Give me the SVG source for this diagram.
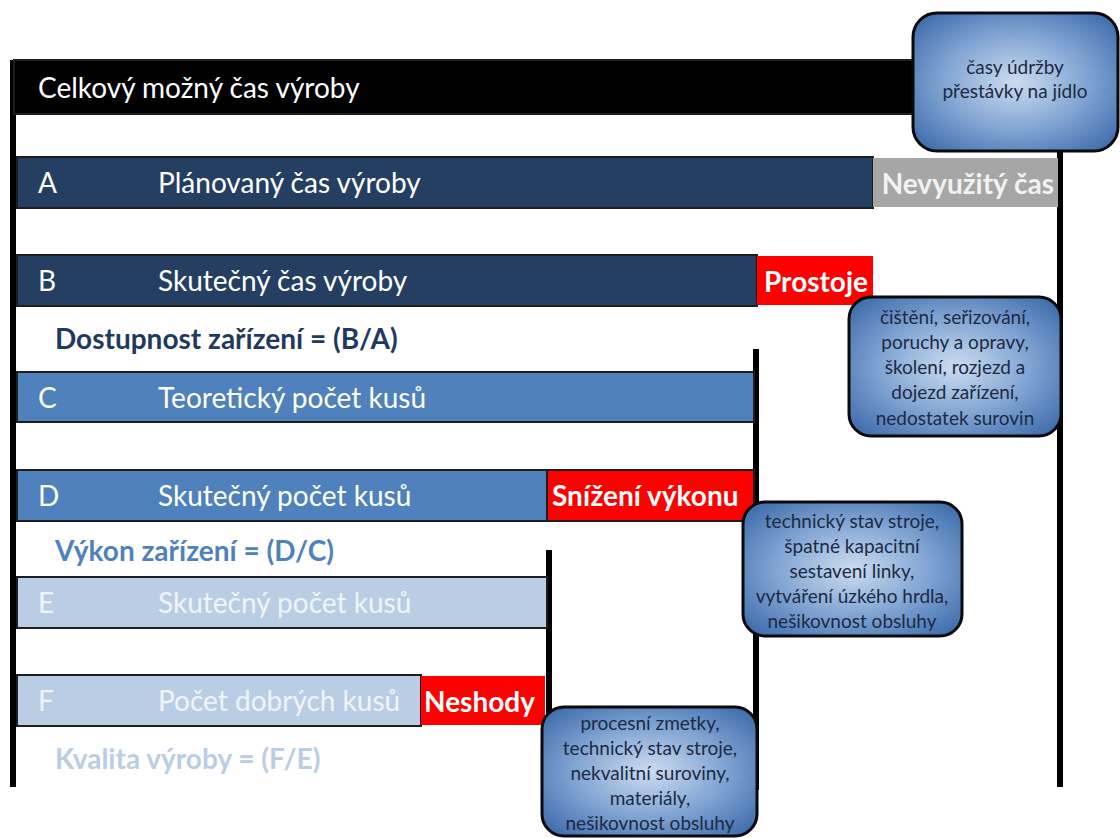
<svg xmlns="http://www.w3.org/2000/svg" width="1120" height="838" viewBox="0 0 1120 838">
<defs>
<radialGradient id="cg" cx="50%" cy="50%" r="65%">
<stop offset="0" stop-color="#cddcf0"/>
<stop offset="0.55" stop-color="#7fa3d2"/>
<stop offset="1" stop-color="#3f6dac"/>
</radialGradient>
</defs>
<style>
.bar{stroke:#1e1e1e;stroke-width:2}
.t{font-family:Lato,"Open Sans",sans-serif;font-size:28px}
.b{font-family:Lato,"Open Sans",sans-serif;font-size:28px;font-weight:bold}
.f{font-family:Lato,"Open Sans",sans-serif;font-size:28px;font-weight:bold}
.w{fill:#ffffff}
.lt{fill:#f0f4fa}
.call{fill:url(#cg);stroke:#0a0a0a;stroke-width:3}
.ct{font-family:Lato,"Open Sans",sans-serif;font-size:19px;fill:#1c2a44;text-anchor:middle}
.vl{stroke:#000;stroke-width:6;fill:none}
</style>
<rect width="1120" height="838" fill="#ffffff"/>
<g id="connectors">
<line class="vl" x1="13" y1="60" x2="13" y2="787"/>
<line class="vl" x1="1060" y1="150" x2="1060" y2="787"/>
<line class="vl" x1="756" y1="349" x2="756" y2="790"/>
<line class="vl" x1="549" y1="550" x2="549" y2="790"/>
</g>
<g id="total">
<rect class="bar" x="14" y="60" width="930" height="54" fill="#000"/>
<text class="t w" x="38" y="98">Celkový možný čas výroby</text>
</g>
<g id="callout-udrzba">
<rect class="call" x="913" y="13" width="205" height="138" rx="24"/>
<text class="ct" x="1015" y="74">časy údržby</text>
<text class="ct" x="1015" y="98">přestávky na jídlo</text>
</g>
<g id="bar-A">
<rect class="bar" x="17" y="157" width="856" height="51" fill="#243f62"/>
<text class="t w" x="38" y="193">A</text>
<text class="t w" x="158" y="193">Plánovaný čas výroby</text>
</g>
<g id="nevyuzity">
<rect x="873" y="158" width="185" height="49" fill="#a6a6a6"/>
<text class="b" x="1054" y="194" text-anchor="end" fill="#f2f2f2">Nevyužitý čas</text>
</g>
<g id="bar-B">
<rect class="bar" x="17" y="255" width="740" height="51" fill="#243f62"/>
<text class="t w" x="38" y="291">B</text>
<text class="t w" x="158" y="291">Skutečný čas výroby</text>
</g>
<g id="prostoje">
<rect x="757" y="256" width="116" height="49" fill="#ff0000"/>
<text class="b w" x="764" y="292">Prostoje</text>
</g>
<g id="dostupnost">
<text class="f" x="55" y="349" fill="#1f3a60">Dostupnost zařízení = (B/A)</text>
</g>
<g id="callout-prostoje">
<rect class="call" x="849" y="297" width="212" height="139" rx="22"/>
<text class="ct" x="955" y="324">čištění, seřizování,</text>
<text class="ct" x="955" y="349">poruchy a opravy,</text>
<text class="ct" x="955" y="374">školení, rozjezd a</text>
<text class="ct" x="955" y="399">dojezd zařízení,</text>
<text class="ct" x="955" y="425">nedostatek surovin</text>
</g>
<g id="bar-C">
<rect class="bar" x="17" y="372" width="737" height="50" fill="#4f81bd"/>
<text class="t w" x="38" y="408">C</text>
<text class="t w" x="158" y="408">Teoretický počet kusů</text>
</g>
<g id="bar-D">
<rect class="bar" x="17" y="470" width="530" height="51" fill="#4f81bd"/>
<text class="t w" x="38" y="506">D</text>
<text class="t w" x="158" y="506">Skutečný počet kusů</text>
</g>
<g id="snizeni">
<rect class="bar" x="547" y="470" width="207" height="51" fill="#ff0000"/>
<text class="b w" x="552" y="506">Snížení výkonu</text>
</g>
<g id="vykon">
<text class="f" x="55" y="561" fill="#4f81bd">Výkon zařízení = (D/C)</text>
</g>
<g id="callout-vykon">
<rect class="call" x="743" y="502" width="219" height="134" rx="22"/>
<text class="ct" x="852" y="528">technický stav stroje,</text>
<text class="ct" x="852" y="553">špatné kapacitní</text>
<text class="ct" x="852" y="578">sestavení linky,</text>
<text class="ct" x="852" y="603">vytváření úzkého hrdla,</text>
<text class="ct" x="852" y="628">nešikovnost obsluhy</text>
</g>
<g id="bar-E">
<rect class="bar" x="17" y="577" width="530" height="51" fill="#b9cde5"/>
<text class="t lt" x="38" y="613">E</text>
<text class="t lt" x="158" y="613">Skutečný počet kusů</text>
</g>
<g id="bar-F">
<rect class="bar" x="17" y="675" width="404" height="51" fill="#b9cde5"/>
<text class="t lt" x="38" y="711">F</text>
<text class="t lt" x="158" y="711">Počet dobrých kusů</text>
</g>
<g id="neshody">
<rect x="421" y="676" width="124" height="49" fill="#ff0000"/>
<text class="b w" x="424" y="712">Neshody</text>
</g>
<g id="kvalita">
<text class="f" x="55" y="769" fill="#b9cde5">Kvalita výroby = (F/E)</text>
</g>
<g id="callout-neshody">
<rect class="call" x="542" y="707" width="215" height="129" rx="22"/>
<text class="ct" x="650" y="730">procesní zmetky,</text>
<text class="ct" x="650" y="755">technický stav stroje,</text>
<text class="ct" x="650" y="780">nekvalitní suroviny,</text>
<text class="ct" x="650" y="805">materiály,</text>
<text class="ct" x="650" y="830">nešikovnost obsluhy</text>
</g>
</svg>
